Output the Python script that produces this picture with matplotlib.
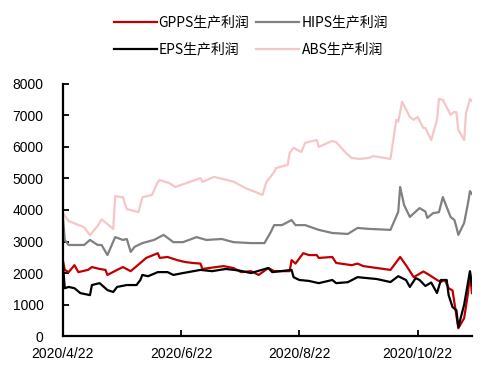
import pandas as pd
import matplotlib.pyplot as plt
import matplotlib.dates as mdates

plt.rcParams['font.family'] = ['Liberation Sans', 'Noto Sans CJK SC', 'DejaVu Sans']

# GPPS生产利润
gpps_dates = ["4/22", "4/23", "4/25", "4/28", "4/30", "5/5", "5/7", "5/11", "5/14", "5/15",
              "5/20", "5/23", "5/27", "6/1", "6/4", "6/10", "6/11", "6/15", "6/20", "6/24",
              "6/28", "7/2", "7/3", "7/10", "7/14", "7/19", "7/23", "7/28", "8/1", "8/6",
              "8/9", "8/17", "8/18", "8/20", "8/24", "8/27", "8/31", "9/1", "9/8", "9/10",
              "9/18", "9/21", "9/24", "10/8", "10/13", "10/16", "10/20", "10/25", "10/28", "11/1",
              "11/3", "11/5", "11/7", "11/9", "11/12", "11/15", "11/17", "11/18", "11/19"]
gpps = [2410, 2100, 2030, 2250, 2030, 2100, 2190, 2130, 2100, 1940,
        2100, 2190, 2060, 2320, 2480, 2630, 2480, 2510, 2410, 2350,
        2320, 2300, 2130, 2190, 2220, 2160, 2030, 2060, 1940, 2160,
        2060, 2060, 2410, 2300, 2630, 2570, 2570, 2480, 2510, 2320,
        2250, 2300, 2220, 2100, 2510, 2250, 1870, 2050, 1940, 1780,
        1720, 1780, 1520, 1450, 250, 570, 1365, 2000, 1365]

# HIPS生产利润
hips_dates = ["4/22", "4/23", "4/25", "5/3", "5/6", "5/10", "5/12", "5/15", "5/19", "5/23",
              "5/25", "5/27", "5/29", "6/2", "6/8", "6/13", "6/18", "6/23", "6/30", "7/5",
              "7/13", "7/19", "7/28", "8/4", "8/7", "8/9", "8/13", "8/18", "8/20", "8/25",
              "9/1", "9/8", "9/16", "9/21", "9/27", "10/8", "10/12", "10/13", "10/15", "10/18",
              "10/23", "10/26", "10/27", "10/30", "11/2", "11/4", "11/5", "11/8", "11/10", "11/11",
              "11/12", "11/15", "11/17", "11/18", "11/19"]
hips = [3800, 3050, 2890, 2890, 3050, 2890, 2890, 2570, 3140, 3050,
        3080, 2670, 2830, 2950, 3050, 3210, 2980, 2980, 3140, 3050,
        3080, 2980, 2950, 2950, 3270, 3520, 3520, 3680, 3520, 3520,
        3370, 3270, 3240, 3430, 3400, 3370, 3940, 4730, 4160, 3780,
        4060, 3950, 3750, 3900, 3930, 4410, 4250, 3780, 3680, 3460,
        3210, 3590, 4220, 4600, 4510]

# EPS生产利润
eps_dates = ["4/22", "4/23", "4/25", "4/28", "5/1", "5/6", "5/7", "5/11", "5/15", "5/18",
             "5/20", "5/25", "5/30", "6/1", "6/2", "6/5", "6/10", "6/15", "6/18", "6/23",
             "7/2", "7/8", "7/15", "7/22", "7/28", "8/6", "8/8", "8/18", "8/19", "8/22",
             "8/27", "9/1", "9/8", "9/10", "9/16", "9/21", "10/1", "10/8", "10/12", "10/16",
             "10/18", "10/21", "10/23", "10/26", "10/29", "11/1", "11/3", "11/6", "11/7", "11/9",
             "11/11", "11/12", "11/15", "11/18", "11/19"]
eps = [2300, 1520, 1560, 1520, 1365, 1300, 1620, 1680, 1460, 1400,
       1560, 1620, 1620, 1780, 1940, 1900, 2030, 2030, 1940, 2000,
       2100, 2060, 2130, 2080, 2000, 2160, 2030, 2100, 1870, 1780,
       1750, 1680, 1780, 1680, 1710, 1870, 1810, 1715, 1900, 1780,
       1560, 1840, 1780, 1590, 1700, 1365, 1780, 1780, 1300, 920,
       825, 285, 1000, 2060, 1620]

# ABS生产利润
abs_dates = ["4/22", "4/25", "5/3", "5/6", "5/10", "5/12", "5/15", "5/18", "5/19", "5/23",
             "5/25", "5/31", "6/2", "6/7", "6/10", "6/11", "6/16", "6/19", "7/2", "7/3",
             "7/9", "7/19", "7/25", "8/3", "8/5", "8/9", "8/10", "8/16", "8/17", "8/19",
             "8/23", "8/25", "8/31", "9/1", "9/8", "9/10", "9/15", "9/18", "9/22", "9/27",
             "9/29", "10/8", "10/11", "10/12", "10/14", "10/18", "10/20", "10/22", "10/25", "10/26",
             "10/29", "11/1", "11/2", "11/4", "11/8", "11/10", "11/11", "11/12", "11/15", "11/16",
             "11/18", "11/19"]
abs_ = [3900, 3650, 3450, 3200, 3500, 3700, 3550, 3400, 4440, 4400,
        4030, 3930, 4400, 4480, 4890, 4950, 4850, 4730, 5010, 4890,
        5050, 4900, 4700, 4480, 4890, 5200, 5330, 5430, 5810, 5970,
        5840, 6130, 6220, 6000, 6190, 6150, 5810, 5650, 5620, 5650,
        5710, 5620, 6860, 6800, 7430, 6950, 6860, 6950, 6600, 6600,
        6220, 6860, 7520, 7490, 7020, 7110, 7100, 6540, 6220, 7080,
        7520, 7460]

xtick_labels = ["2020/4/22", "2020/6/22", "2020/8/22", "2020/10/22"]


def to_dates(md):
    return pd.to_datetime(["2020/" + d for d in md], format="%Y/%m/%d")


fig = plt.figure(figsize=(4.87, 3.71), dpi=100)
ax = fig.add_axes([0.129, 0.094, 0.840, 0.680])

ax.plot(to_dates(gpps_dates), gpps, color='#C00000', lw=1.6, label='GPPS生产利润')
ax.plot(to_dates(hips_dates), hips, color='#808080', lw=1.6, label='HIPS生产利润')
ax.plot(to_dates(eps_dates), eps, color='black', lw=1.6, label='EPS生产利润')
ax.plot(to_dates(abs_dates), abs_, color='#F6C6C6', lw=1.6, label='ABS生产利润')

ax.set_ylim(0, 8000)
ax.set_yticks(range(0, 8001, 1000))
ax.set_xlim(pd.Timestamp('2020-04-22'), pd.Timestamp('2020-11-19'))
ax.set_xticks(pd.to_datetime(xtick_labels, format="%Y/%m/%d"))
ax.set_xticklabels(xtick_labels)

for s in ['top', 'right']:
    ax.spines[s].set_visible(False)
for s in ['left', 'bottom']:
    ax.spines[s].set_linewidth(1.6)
ax.tick_params(axis='both', direction='in', length=4, width=1.3, labelsize=10, colors='black')
ax.tick_params(axis='y', pad=14)
ax.tick_params(axis='x', pad=8)

h, l = ax.get_legend_handles_labels()
order = [0, 2, 1, 3]
fig.legend([h[i] for i in order], [l[i] for i in order], ncol=2, loc='center',
           bbox_to_anchor=(0.515, 0.903), frameon=False, handlelength=3.1,
           handletextpad=0.15, columnspacing=0.5, labelspacing=0.95,
           prop={'family': ['Noto Sans CJK SC', 'DejaVu Sans'], 'size': 10})

fig.savefig('out.png', dpi=100)
